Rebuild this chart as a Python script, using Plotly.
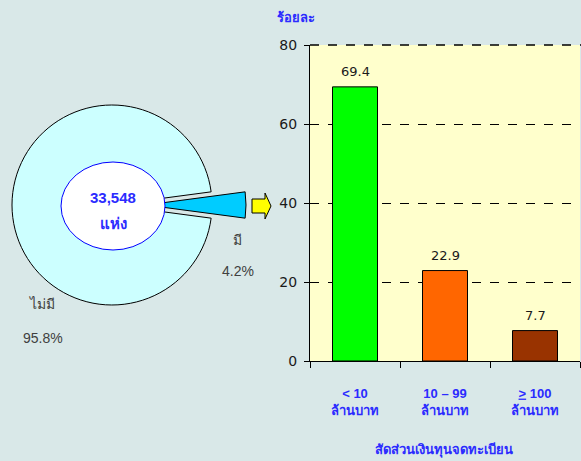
import plotly.graph_objects as go

# pie data
pie_labels = ["มี", "ไม่มี"]
pie_values = [4.2, 95.8]
total_firms = "33,548"

# bar data
bar_cats = ["< 10<br>ล้านบาท", "10 – 99<br>ล้านบาท", "<u>></u> 100<br>ล้านบาท"]
bar_values = [69.4, 22.9, 7.7]
bar_colors = ["#00ff00", "#ff6600", "#993300"]
y_ticks = [0, 20, 40, 60, 80]

W, H = 581, 461
ML, MR, MT, MB = 0, 0, 45, 100
PW, PH = W - ML - MR, H - MT - MB

bg = "#d9e8e8"
blue = "#2b2bff"
font_fam = "Tahoma, Liberation Sans, Noto Sans, DejaVu Sans, sans-serif"
num_fam = "DejaVu Sans, Verdana, sans-serif"


def px_x(x):
    return (x - ML) / PW


def px_y(y):
    return (H - MB - y) / PH


def pie_domain(cx, cy, r):
    return dict(x=[px_x(cx - r), px_x(cx + r)], y=[px_y(cy + r), px_y(cy - r)])


rot = 90 - pie_values[0] * 360 / 100 / 2

fig = go.Figure()

# big slice (small one hidden, leaves the gap)
fig.add_trace(go.Pie(
    labels=pie_labels, values=pie_values, sort=False, direction="clockwise",
    rotation=rot, textinfo="none", showlegend=False, hoverinfo="label+percent",
    marker=dict(colors=["rgba(0,0,0,0)", "#ccffff"],
                line=dict(color=["rgba(0,0,0,0)", "#000000"], width=[0, 1])),
    domain=pie_domain(112, 205, 100),
))
# exploded small slice
fig.add_trace(go.Pie(
    labels=pie_labels, values=pie_values, sort=False, direction="clockwise",
    rotation=rot, textinfo="none", showlegend=False, hoverinfo="label+percent",
    marker=dict(colors=["#00ccff", "rgba(0,0,0,0)"],
                line=dict(color=["#000000", "rgba(0,0,0,0)"], width=[1, 0])),
    domain=pie_domain(146, 205, 100),
))

fig.add_trace(go.Bar(
    x=bar_cats, y=bar_values, width=0.5, showlegend=False,
    marker=dict(color=bar_colors, line=dict(color="#000000", width=1)),
))

# dashed border along the top of the bar plot
fig.add_shape(type="line", xref="paper", yref="paper",
              x0=px_x(310), x1=1, y0=1, y1=1,
              line=dict(color="#000000", width=1.5, dash="dash"))

# white centre ellipse
fig.add_shape(type="circle", xref="paper", yref="paper",
              x0=px_x(61), x1=px_x(165), y0=px_y(250), y1=px_y(162),
              fillcolor="white", line=dict(color="#0000ff", width=1))

# yellow arrow
ax0, ax1, ax2 = 252, 265, 271
ay_mid = 206
arrow = (f"M {px_x(ax0)},{px_y(ay_mid - 7)} L {px_x(ax1)},{px_y(ay_mid - 7)} "
         f"L {px_x(ax1)},{px_y(ay_mid - 13)} L {px_x(ax2)},{px_y(ay_mid)} "
         f"L {px_x(ax1)},{px_y(ay_mid + 13)} L {px_x(ax1)},{px_y(ay_mid + 7)} "
         f"L {px_x(ax0)},{px_y(ay_mid + 7)} Z")
fig.add_shape(type="path", xref="paper", yref="paper", path=arrow,
              fillcolor="#ffff00", line=dict(color="#000000", width=1))

ann = []
ann.append(dict(x=px_x(113), y=px_y(197), text=f"<b>{total_firms}</b>",
                font=dict(size=15, color=blue)))
ann.append(dict(x=px_x(113), y=px_y(223), text="<b>แห่ง</b>",
                font=dict(size=15, color=blue)))
ann.append(dict(x=px_x(237), y=px_y(240), text=pie_labels[0],
                font=dict(size=14, color="#404040")))
ann.append(dict(x=px_x(238), y=px_y(271), text=f"{pie_values[0]}%",
                font=dict(size=14, color="#404040")))
ann.append(dict(x=px_x(42), y=px_y(304), text=pie_labels[1],
                font=dict(size=14, color="#404040")))
ann.append(dict(x=px_x(43), y=px_y(338), text=f"{pie_values[1]}%",
                font=dict(size=14, color="#404040")))
ann.append(dict(x=px_x(296), y=px_y(18), text="<b>ร้อยละ</b>",
                font=dict(size=13, color=blue)))
ann.append(dict(x=px_x(444), y=px_y(450), text="<b>สัดส่วนเงินทุนจดทะเบียน</b>",
                font=dict(size=13, color=blue)))
for a in ann:
    a.update(xref="paper", yref="paper", showarrow=False,
             xanchor="center", yanchor="middle")

for c, v in zip(bar_cats, bar_values):
    ann.append(dict(x=c, y=v, xref="x", yref="y", text=f"{v}",
                    showarrow=False, yshift=15, yanchor="middle",
                    font=dict(size=13, color="#1a1a1a", family=num_fam)))

fig.update_layout(
    width=W, height=H,
    margin=dict(l=ML, r=MR, t=MT, b=MB, pad=0),
    paper_bgcolor=bg, plot_bgcolor="#ffffcc",
    font=dict(family=font_fam, size=13, color="#1a1a1a"),
    annotations=ann,
    bargap=0.5,
    xaxis=dict(domain=[px_x(310), px_x(580)], type="category",
               tickvals=bar_cats, ticktext=[f"<b>{c}</b>" for c in bar_cats],
               showline=True, linecolor="#000000", linewidth=1,
               ticks="outside", tickson="boundaries", ticklen=6,
               tickcolor="#000000", showgrid=False,
               tickfont=dict(size=13, color=blue, family=font_fam),
               ticklabelstandoff=20, fixedrange=True),
    yaxis=dict(range=[0, 80], tickvals=y_ticks, showline=True,
               linecolor="#000000", linewidth=1, ticks="outside", ticklen=5,
               tickcolor="#000000", gridcolor="#000000", griddash="dash",
               gridwidth=1, zeroline=False, ticklabelstandoff=4,
               tickfont=dict(size=14, color="#1a1a1a", family=num_fam),
               fixedrange=True),
)

fig.write_html("out.html", config={"displayModeBar": False}, post_script=(
    "document.body.style.margin='0';"
    f"document.body.style.background='{bg}';"))
